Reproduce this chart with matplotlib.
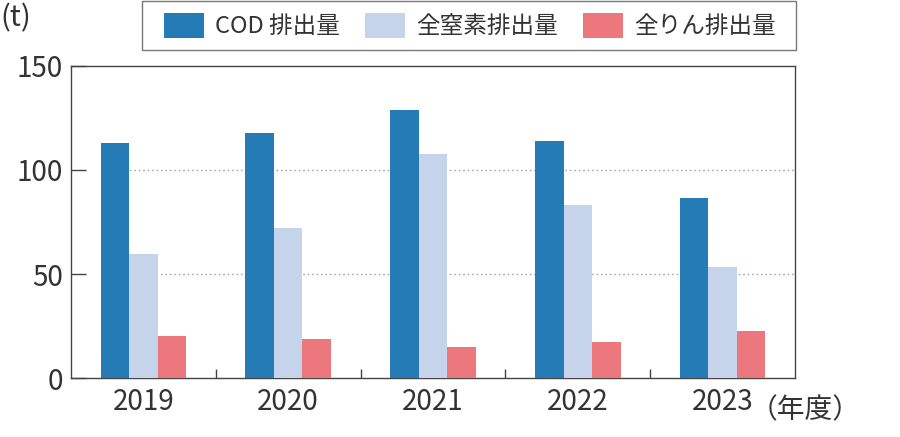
import numpy as np
import matplotlib.pyplot as plt
from matplotlib.patches import Rectangle

plt.rcParams['font.family'] = ['Noto Sans CJK JP', 'DejaVu Sans']

years = ['2019', '2020', '2021', '2022', '2023']
cod = [112.7, 117.7, 128.6, 113.7, 86.4]
nitrogen = [59.6, 71.9, 107.5, 83.0, 53.3]
phosphorus = [20.1, 19.0, 15.1, 17.5, 22.7]
series_names = ['COD 排出量', '全窒素排出量', '全りん排出量']
colors = ['#247bb6', '#c5d4ea', '#ec777d']

txt = '#333333'
fig = plt.figure(figsize=(9, 4.37), dpi=100)
ax = fig.add_axes([0.0789, 0.1343, 0.8044, 0.7154])

x = np.arange(len(years))
w = 0.197
for i, (vals, name, c) in enumerate(zip([cod, nitrogen, phosphorus], series_names, colors)):
    ax.bar(x + (i - 1) * w, vals, w, color=c, label=name, zorder=3, linewidth=0)

ax.set_xlim(-0.5, len(years) - 0.5)
ax.set_ylim(0, 150)
ax.set_yticks([0, 50, 100, 150])
ax.set_xticks(x)
ax.set_xticklabels(years)
ax.set_xticks(x[:-1] + 0.5, minor=True)

ax.tick_params(axis='y', direction='in', length=11, width=1.0, color='#444444',
               labelsize=20, labelcolor=txt, pad=6)
ax.tick_params(axis='x', which='major', length=0, labelsize=20, labelcolor=txt, pad=6)
ax.tick_params(axis='x', which='minor', direction='in', length=6.7, width=1.0, color='#444444')

for yv in [50, 100]:
    ax.plot([0.075, 1], [yv, yv], transform=ax.get_yaxis_transform(), color='#999999',
            linestyle=(0, (1, 2.2)), linewidth=1.0, zorder=1)

for s in ax.spines.values():
    s.set_color('#444444')
    s.set_linewidth(1.0)

ax.text(4.19, -0.055, '（年度）', transform=ax.get_xaxis_transform(), ha='left', va='top',
        fontsize=20, color=txt)
fig.text(0.0, 0.957, '(t)', ha='left', va='center', fontsize=21, color=txt)

# legend box
fig.patches.append(Rectangle((142 / 900, 1 - 50 / 437), 654 / 900, 49 / 437,
                             transform=fig.transFigure, fill=False,
                             edgecolor='#777777', linewidth=1.0))
leg = fig.legend(loc='center', bbox_to_anchor=(470 / 900, 1 - 25.5 / 437), ncol=3, fontsize=17,
                 frameon=False, handlelength=1.7, handleheight=1.3, handletextpad=0.47,
                 columnspacing=1.05, borderpad=0, borderaxespad=0)
for t in leg.get_texts():
    t.set_color(txt)

fig.savefig('out.png', dpi=100)
